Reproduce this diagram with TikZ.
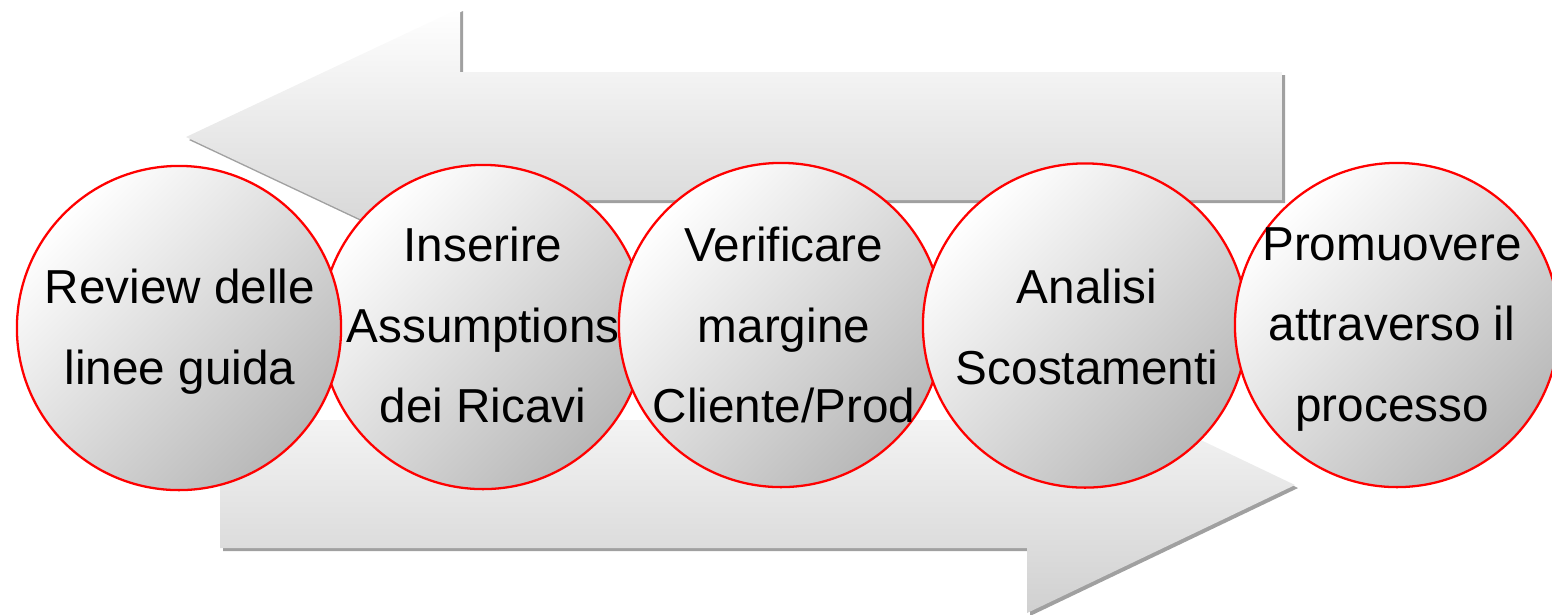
\documentclass[tikz,border=0pt]{standalone}
\usepackage{fontspec}
\setmainfont{Liberation Sans}
\definecolor{shadowgray}{RGB}{160,160,160}
\definecolor{arrowgray}{RGB}{208,208,208}
\definecolor{circgray}{RGB}{184,184,184}
\begin{document}
\begin{tikzpicture}[x=0.01cm,y=-0.01cm,
  bubble/.style={circle, draw=red, line width=0.65pt, minimum size=3.24cm, inner sep=0pt,
    top color=white, bottom color=circgray, shading angle=45},
  txt/.style={align=center, font=\fontsize{13.55}{22.8}\selectfont, inner sep=0pt, text=black},
  arrowshadow/.style={fill=shadowgray},
  arrowbody/.style={top color=white, bottom color=arrowgray}
]
\useasboundingbox (0,0) rectangle (1552,614);
% top arrow (pointing left)
\fill[arrowshadow, shift={(3,3)}] (1282,72) -- (460,72) -- (460,8) -- (186,137) -- (460,266) -- (460,200) -- (1282,200) -- cycle;
\shade[arrowbody] (1282,72) -- (460,72) -- (460,8) -- (186,137) -- (460,266) -- (460,200) -- (1282,200) -- cycle;
% bottom arrow (pointing right)
\fill[arrowshadow, shift={(3,3)}] (220,420) -- (1027,420) -- (1027,357) -- (1295,485) -- (1027,613) -- (1027,548) -- (220,548) -- cycle;
\shade[arrowbody] (220,420) -- (1027,420) -- (1027,357) -- (1295,485) -- (1027,613) -- (1027,548) -- (220,548) -- cycle;
% circles
\node[bubble] (b2) at (483,327) {};
\node[bubble] (b1) at (179,328) {};
\node[bubble] (b3) at (781,325) {};
\node[bubble] (b4) at (1085,325.5) {};
\node[bubble] (b5) at (1397,325) {};
% texts
\node[txt] (t1) at (180,331.6) {Review delle\\linee guida};
\node[txt] (t2) at (483,325) {Inserire\\Assumptions\\dei Ricavi};
\node[txt] (t3) at (784,325) {Verificare\\margine\\Cliente/Prod};
\node[txt] (t4) at (1087,327) {Analisi\\Scostamenti};
\node[txt] (t5) at (1392,329.4) {Promuovere\\attraverso il\\processo};
\end{tikzpicture}
\end{document}
